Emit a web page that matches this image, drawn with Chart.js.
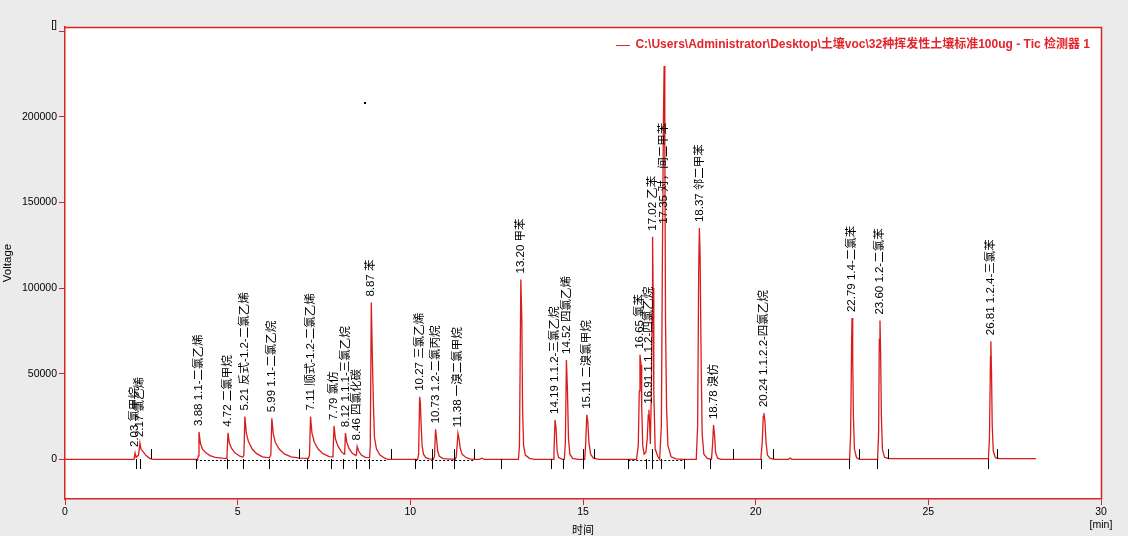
<!DOCTYPE html>
<html>
<head>
<meta charset="utf-8">
<script src="https://cdn.jsdelivr.net/npm/chart.js@4.4.1/dist/chart.umd.min.js"></script>
<style>
  html, body { margin: 0; padding: 0; background: #ebebeb; }
  canvas { display: block; }
</style>
</head>
<body>
<canvas id="tic" width="1128" height="536"></canvas>
<script>
// -------------------------------------------------------------------------- Data

const xTicks = [0, 5, 10, 15, 20, 25, 30]
const yTicks = [0, 50000, 100000, 150000, 200000, 250000]
const yTickText = ['0', '50000', '100000', '150000', '200000', '[]']

const seriesName = 'C:\\Users\\Administrator\\Desktop\\土壤voc\\32种挥发性土壤标准100ug - Tic 检测器 1'

// peak table: retention time [min], height, compound
const peakTimes = [2.03, 2.17, 3.88, 4.72, 5.21, 5.99, 7.11, 7.79, 8.12, 8.46, 8.87, 10.27, 10.73, 11.38,
    13.20, 14.19, 14.52, 15.11, 16.65, 16.91, 17.02, 17.35, 18.37, 18.78, 20.24, 22.79, 23.60, 26.81]
const peakHeights = [3700, 9500, 16000, 15500, 25000, 24000, 25000, 19500, 15300, 7500, 91500, 36500, 17500, 15200,
    105000, 23000, 58000, 26000, 61000, 29000, 130000, 134000, 135000, 20000, 27000, 82500, 81000, 69000]
const peakNames = ['氯甲烷', '氯乙烯', '1.1-二氯乙烯', '二氯甲烷', '反式-1.2-二氯乙烯', '1.1-二氯乙烷',
    '顺式-1.2-二氯乙烯', '氯仿', '1.1.1-三氯乙烷', '四氯化碳', '苯', '三氯乙烯', '1.2-二氯丙烷', '一溴二氯甲烷',
    '甲苯', '1.1.2-三氯乙烷', '四氯乙烯', '二溴氯甲烷', '氯苯', '1.1.1.2-四氯乙烷', '乙苯', '对，间二甲苯',
    '邻二甲苯', '溴仿', '1.1.2.2-四氯乙烷', '1.4-二氯苯', '1.2-二氯苯', '1.2.4-三氯苯']

// integration marks on the baseline
const startMarks = [2.05, 2.17, 3.79, 4.68, 5.16, 5.92, 7.02, 7.69, 8.06, 8.43, 8.81, 10.14, 10.64, 11.25, 12.62,
    14.07, 14.43, 15.01, 16.31, 16.83, 16.99, 17.27, 17.93, 18.68, 20.16, 22.71, 23.52, 26.74]
const endMarks = [2.49, 6.77, 9.43, 10.64, 11.25, 11.85, 15.01, 15.32, 16.99, 19.35, 20.49, 23.00, 23.83, 27.00]
const baselineSpans = [[3.79, 9.35], [10.14, 11.85], [16.31, 17.93]]
const strayDots = [[8.66, 208600]]

// detector trace [min, voltage]
const trace = [
    [0, 0], [1.98, 0],
    [2.00, 0], [2.03, 3700], [2.06, 1200], [2.13, 2500], [2.17, 9500], [2.20, 6000], [2.26, 4500], [2.35, 2200], [2.45, 600], [2.55, 0],
    [3.84, 0], [3.86, 2000], [3.88, 16000], [3.92, 9500], [3.98, 6000], [4.08, 3800], [4.20, 2200], [4.35, 1200], [4.55, 700], [4.67, 600],
    [4.69, 1500], [4.72, 15500], [4.76, 9500], [4.82, 6500], [4.92, 3800], [5.05, 2000], [5.15, 1200],
    [5.18, 2500], [5.21, 25000], [5.25, 15500], [5.31, 10500], [5.42, 6000], [5.55, 3300], [5.72, 1500], [5.92, 900],
    [5.96, 2500], [5.99, 24000], [6.03, 15000], [6.09, 10000], [6.20, 6000], [6.35, 3200], [6.55, 1500], [6.80, 700], [7.05, 600],
    [7.08, 2500], [7.11, 25000], [7.15, 15500], [7.22, 10000], [7.33, 6000], [7.47, 3300], [7.65, 1600], [7.74, 1400],
    [7.76, 2500], [7.79, 19500], [7.83, 12000], [7.90, 8000], [8.00, 4500], [8.08, 3000],
    [8.10, 4000], [8.12, 15300], [8.16, 10000], [8.22, 6500], [8.32, 3500], [8.42, 2200],
    [8.44, 3000], [8.46, 7500], [8.50, 5000], [8.58, 2500], [8.70, 1200], [8.82, 1000],
    [8.84, 8000], [8.87, 91500], [8.90, 60000], [8.93, 33000], [8.96, 13000], [9.02, 6000], [9.12, 2500], [9.25, 800], [9.35, 0],
    [10.21, 0], [10.24, 3000], [10.27, 36500], [10.29, 33000], [10.31, 22000], [10.34, 8000], [10.38, 3000], [10.45, 1000], [10.55, 300], [10.67, 0],
    [10.70, 2000], [10.73, 17500], [10.76, 12000], [10.79, 5000], [10.84, 1800], [10.95, 400], [11.30, 0],
    [11.33, 1500], [11.38, 15200], [11.41, 12000], [11.45, 6000], [11.50, 3000], [11.60, 1200], [11.72, 300], [11.85, 0],
    [12.00, 0], [12.07, 700], [12.14, 0],
    [13.13, 0], [13.16, 8000], [13.20, 105000], [13.23, 80000], [13.25, 30000], [13.28, 8000], [13.33, 2500], [13.45, 600], [13.60, 0],
    [14.14, 0], [14.16, 5000], [14.19, 23000], [14.22, 18000], [14.25, 5000], [14.29, 1200], [14.40, 0],
    [14.46, 0], [14.49, 10000], [14.52, 58000], [14.55, 40000], [14.58, 12000], [14.62, 3000], [14.70, 600], [14.85, 0],
    [15.05, 0], [15.08, 10000], [15.11, 26000], [15.14, 22000], [15.17, 10000], [15.22, 3000], [15.30, 700], [15.45, 0],
    [16.55, 0], [16.60, 8000], [16.63, 40000], [16.65, 61000], [16.68, 55000], [16.70, 30000], [16.73, 8000], [16.77, 3000], [16.82, 4000],
    [16.86, 12000], [16.89, 26000], [16.91, 29000], [16.93, 20000], [16.95, 9000],
    [16.98, 40000], [17.00, 85000], [17.01, 95000], [17.02, 130000], [17.03, 100000], [17.05, 40000], [17.09, 6000], [17.17, 1500],
    [17.22, 0], [17.27, 20000], [17.30, 120000], [17.33, 200000], [17.35, 229600], [17.37, 180000], [17.39, 80000], [17.42, 30000], [17.46, 8000], [17.55, 1500], [17.70, 300], [17.90, 0],
    [18.28, 0], [18.32, 20000], [18.35, 110000], [18.37, 135000], [18.39, 120000], [18.42, 60000], [18.45, 15000], [18.50, 3000], [18.60, 500], [18.72, 0],
    [18.75, 8000], [18.78, 20000], [18.81, 14000], [18.84, 4000], [18.90, 700], [19.00, 0],
    [20.15, 0], [20.19, 10000], [20.22, 25000], [20.24, 27000], [20.27, 22000], [20.30, 10000], [20.34, 2500], [20.42, 500], [20.55, 0],
    [20.95, 0], [21.00, 800], [21.05, 0],
    [22.72, 0], [22.75, 15000], [22.78, 70000], [22.79, 82500], [22.81, 60000], [22.83, 25000], [22.86, 6000], [22.92, 1000], [23.00, 0],
    [23.53, 0], [23.56, 15000], [23.58, 70000], [23.60, 81000], [23.62, 60000], [23.64, 25000], [23.67, 6000], [23.73, 1200], [23.85, 500],
    [26.74, 400], [26.77, 12000], [26.80, 60000], [26.81, 69000], [26.83, 50000], [26.85, 20000], [26.88, 5000], [26.94, 1000], [27.05, 400], [28.12, 400]
]

// -------------------------------------------------------------------------- Colours

let red = '#d81c1c'
let frameRed = '#d42626'
let legendRed = '#e3242a'

// -------------------------------------------------------------------------- Plugins

const plotFrame = {
    id: 'plotFrame',
    beforeDraw(chart) {
        const {ctx, chartArea: a} = chart
        ctx.save()
        ctx.fillStyle = '#ffffff'
        ctx.fillRect(a.left, a.top, a.right - a.left, a.bottom - a.top)
        ctx.restore()
    },
    afterDraw(chart) {
        const {ctx, chartArea: a} = chart
        ctx.save()
        ctx.strokeStyle = frameRed
        ctx.lineWidth = 1.5
        ctx.beginPath()
        ctx.moveTo(a.left, a.top + 0.5)
        ctx.lineTo(a.right + 0.5, a.top + 0.5)
        ctx.lineTo(a.right + 0.5, a.bottom)
        ctx.stroke()

        // legend, top right inside the plot
        const ds = chart.data.datasets[0]
        ctx.font = 'bold 12px "Liberation Sans", "Noto Sans CJK SC", sans-serif'
        ctx.textAlign = 'right'
        ctx.textBaseline = 'middle'
        ctx.fillStyle = legendRed
        const tx = a.right - 11
        const ty = a.top + 17.5
        ctx.fillText(ds.label, tx, ty)
        const w = ctx.measureText(ds.label).width
        ctx.fillRect(Math.round(tx - w - 19), Math.round(ty), 14, 1)
        ctx.restore()
    }
}

const integration = {
    id: 'integration',
    beforeDatasetsDraw(chart) {
        const {ctx, scales: {x, y}} = chart
        const y0 = Math.round(y.getPixelForValue(0)) + 0.5
        ctx.save()
        ctx.strokeStyle = '#000'
        ctx.lineWidth = 1
        ctx.setLineDash([2, 2])
        baselineSpans.forEach(s => {
            ctx.beginPath()
            ctx.moveTo(x.getPixelForValue(s[0]), y0 + 1)
            ctx.lineTo(x.getPixelForValue(s[1]), y0 + 1)
            ctx.stroke()
        })
        ctx.restore()
    },
    afterDatasetsDraw(chart) {
        const {ctx, scales: {x, y}} = chart
        const y0 = Math.round(y.getPixelForValue(0))
        ctx.save()
        ctx.strokeStyle = '#000'
        ctx.lineWidth = 1
        startMarks.forEach(t => {
            const px = Math.round(x.getPixelForValue(t)) + 0.5
            ctx.beginPath()
            ctx.moveTo(px, y0)
            ctx.lineTo(px, y0 + 10)
            ctx.stroke()
        })
        endMarks.forEach(t => {
            const px = Math.round(x.getPixelForValue(t)) + 0.5
            ctx.beginPath()
            ctx.moveTo(px, y0 - 10)
            ctx.lineTo(px, y0)
            ctx.stroke()
        })
        ctx.fillStyle = '#000'
        strayDots.forEach(d => {
            ctx.fillRect(Math.round(x.getPixelForValue(d[0])), Math.round(y.getPixelForValue(d[1])), 2, 2)
        })

        // peak annotations
        ctx.font = '11.5px "Liberation Sans", "Noto Sans CJK SC", sans-serif'
        ctx.fillStyle = '#000'
        ctx.textAlign = 'left'
        ctx.textBaseline = 'middle'
        peakTimes.forEach((t, i) => {
            ctx.save()
            ctx.translate(x.getPixelForValue(t), y.getPixelForValue(peakHeights[i]) - 6)
            ctx.rotate(-Math.PI / 2)
            ctx.fillText(t.toFixed(2) + ' ' + peakNames[i], 0, 0)
            ctx.restore()
        })
        ctx.restore()
    }
}

// -------------------------------------------------------------------------- Chart Config

const dataTic = {
    datasets: [{
        label: seriesName,
        data: trace.map(p => ({x: p[0], y: p[1]})),
        borderColor: red,
        backgroundColor: red,
        borderWidth: 1.3,
        pointRadius: 0,
        tension: 0,
        fill: false
    }]
}

const tickFont = {family: '"Liberation Sans", sans-serif', size: 10.5}

const configTic = {
    type: 'line',
    data: dataTic,
    options: {
        responsive: false,
        animation: false,
        layout: {
            padding: {top: 27, right: 27, bottom: 0, left: 0}
        },
        plugins: {
            tooltip: {enabled: false},
            legend: {display: false}
        },
        scales: {
            x: {
                type: 'linear',
                min: 0,
                max: 30,
                afterFit: scale => { scale.height = 37 },
                afterBuildTicks: scale => { scale.ticks = xTicks.map(v => ({value: v})) },
                grid: {drawOnChartArea: false, drawTicks: true, tickLength: 6, color: frameRed},
                border: {display: true, color: frameRed, width: 1.5},
                ticks: {
                    autoSkip: false,
                    maxRotation: 0,
                    padding: 1,
                    color: '#000',
                    font: tickFont,
                    callback: v => v === 30 ? ['30', '[min]'] : String(v)
                },
                title: {
                    display: true,
                    text: '时间',
                    color: '#000',
                    padding: {top: 0, bottom: 0},
                    font: {family: '"Noto Sans CJK SC", sans-serif', size: 11}
                }
            },
            y: {
                type: 'linear',
                min: -23150,
                max: 252400,
                afterFit: scale => { scale.width = 65 },
                afterBuildTicks: scale => { scale.ticks = yTicks.map(v => ({value: v})) },
                grid: {drawOnChartArea: false, drawTicks: true, tickLength: 6, color: frameRed},
                border: {display: true, color: frameRed, width: 1.5},
                ticks: {
                    padding: 2,
                    color: '#000',
                    font: tickFont,
                    callback: v => {
                        const i = yTicks.indexOf(v)
                        return v === 250000 ? ['[]', ''] : yTickText[i]
                    }
                },
                title: {
                    display: true,
                    text: 'Voltage',
                    color: '#000',
                    padding: {top: 1, bottom: 0},
                    font: {family: '"Liberation Sans", sans-serif', size: 11.5}
                }
            }
        }
    },
    plugins: [plotFrame, integration]
}

// -------------------------------------------------------------------------- Render Chart
let ticChart = new Chart(
    document.getElementById('tic'),
    configTic
)
</script>
</body>
</html>
